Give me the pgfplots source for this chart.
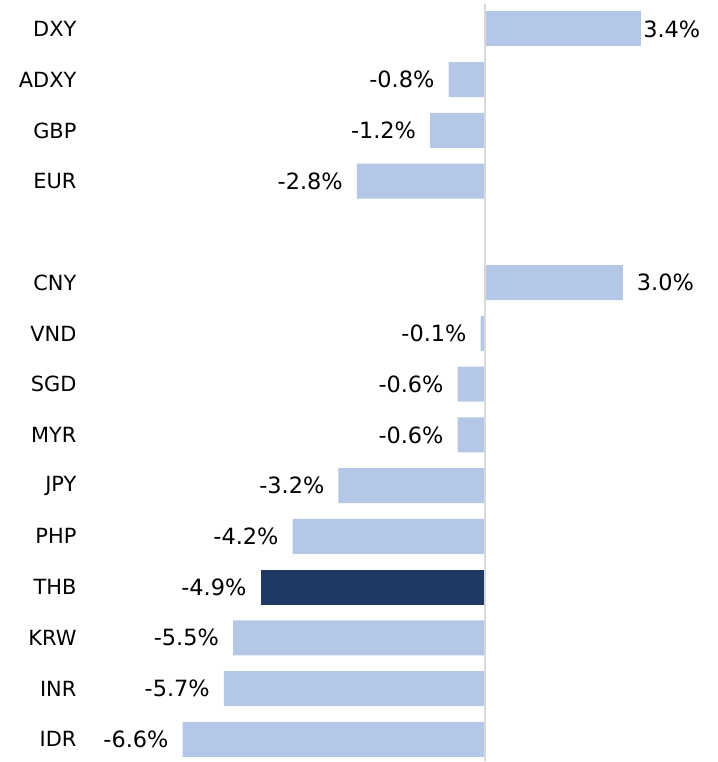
\documentclass[border=0pt]{standalone}
\usepackage{pgfplots}
\pgfplotsset{compat=1.18}
\usepackage{fontspec}
\setmainfont{DejaVu Sans}
\definecolor{lightbar}{HTML}{B4C7E7}
\definecolor{darkbar}{HTML}{203864}
\definecolor{zeroline}{HTML}{D9D9D9}
\begin{document}
\begin{tikzpicture}
\begin{axis}[
  scale only axis,
  width=710bp, height=762bp,
  xmin=-10.49, xmax=4.98,
  ymin=-0.571, ymax=14.433,
  y dir=reverse,
  xbar, bar width=35bp, bar shift=0pt,
  axis line style={draw=none},
  tick style={draw=none},
  xtick=\empty,
  ytick={0,1,2,3,5,6,7,8,9,10,11,12,13,14},
  yticklabels={DXY,ADXY,GBP,EUR,CNY,VND,SGD,MYR,JPY,PHP,THB,KRW,INR,IDR},
  yticklabel style={anchor=east, xshift=80bp, font=\fontsize{21}{24}\selectfont},
  clip=false,
  point meta=x,
  nodes near coords={\pgfmathprintnumber[fixed,fixed zerofill,precision=1,assume math mode=true]{\pgfplotspointmeta}\%},
  nodes near coords align={horizontal},
  every node near coord/.append style={font=\fontsize{22.5}{26}\selectfont, text=black, inner sep=14bp},
]
\addplot[draw=none, fill=lightbar, every node near coord/.append style={inner sep=2bp}] coordinates {
  (3.4,0)
};
\addplot[draw=none, fill=lightbar] coordinates {
  (-0.8,1) (-1.2,2) (-2.8,3)
  (3.0,5) (-0.1,6) (-0.6,7) (-0.6,8) (-3.2,9) (-4.2,10)
  (-5.5,12) (-5.7,13) (-6.6,14)
};
\addplot[draw=none, fill=darkbar] coordinates {
  (-4.9,11)
};
\draw[zeroline, line width=1.5bp] (axis cs:0,-0.5) -- (axis cs:0,14.433);
\end{axis}
\end{tikzpicture}
\end{document}
